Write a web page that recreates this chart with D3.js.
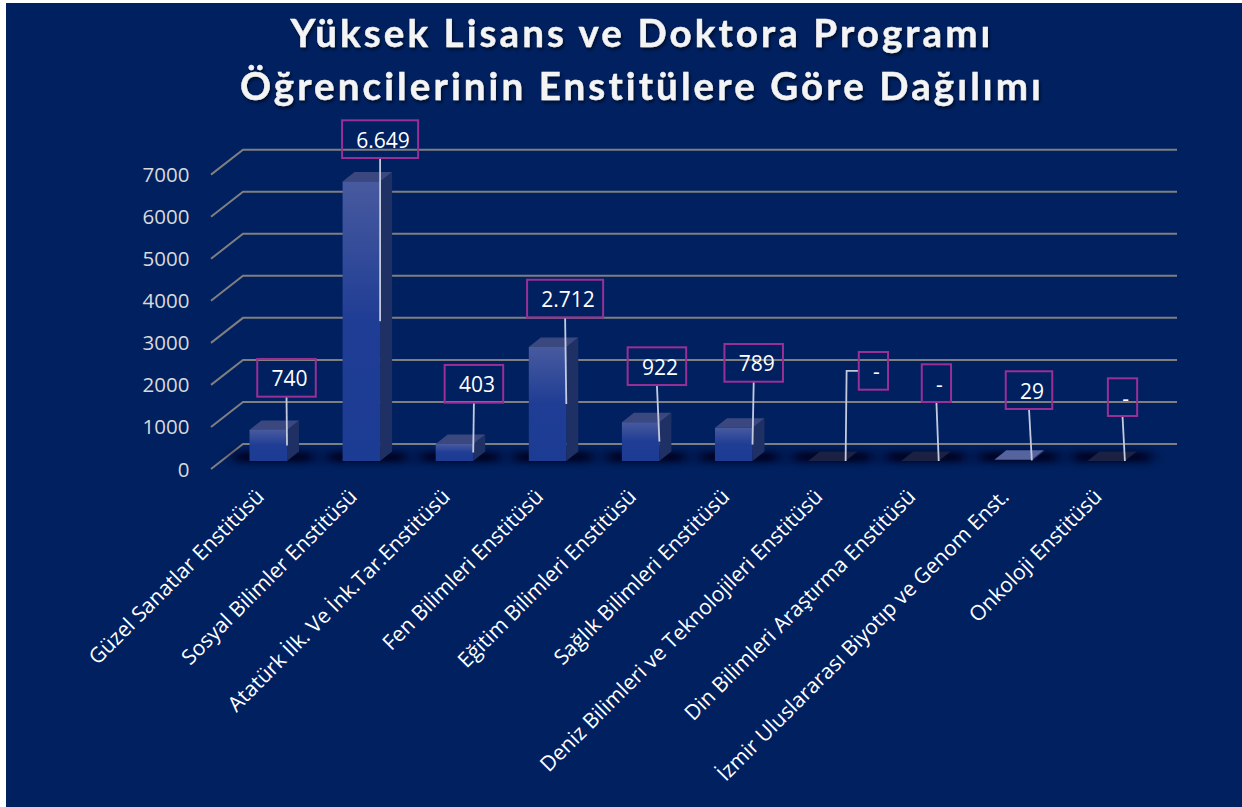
<!DOCTYPE html>
<html><head><meta charset="utf-8">
<script src="https://cdn.jsdelivr.net/npm/d3@7/dist/d3.min.js"></script>
<style>html,body{margin:0;padding:0;background:#fff;overflow:hidden}svg{display:block}</style>
</head><body><div id="chart"></div>
<script>
const titleLines = ["Yüksek Lisans ve Doktora Programı", "Öğrencilerinin Enstitülere Göre Dağılımı"];
const categories = ["Güzel Sanatlar Enstitüsü","Sosyal Bilimler Enstitüsü","Atatürk İlk. Ve İnk.Tar.Enstitüsü","Fen Bilimleri Enstitüsü","Eğitim Bilimleri Enstitüsü","Sağlık Bilimleri Enstitüsü","Deniz Bilimleri ve Teknolojileri Enstitüsü","Din Bilimleri Araştırma Enstitüsü","İzmir Uluslararası Biyotıp ve Genom Enst.","Onkoloji Enstitüsü"];
const values = [740,6649,403,2712,922,789,0,0,29,0];
const valueLabels = ["740","6.649","403","2.712","922","789","-","-","29","-"];
const yTicks = [0,1000,2000,3000,4000,5000,6000,7000];
// label placement, relative to each bar
const labelShiftX = [-0.5,0,0.7,-1.2,-2.5,1.2,27.8,-2.3,-2.8,-2.4];
const labelLift = [33.2,23.4,41.4,29.5,37.2,46.1,71.3,59,50.8,45];

const W=1242,H=807;
const svg=d3.select("#chart").append("svg").attr("width",W).attr("height",H);
const defs=svg.append("defs");
const fg=defs.append("linearGradient").attr("id","front").attr("x1",0).attr("y1",0).attr("x2",0).attr("y2",1);
fg.append("stop").attr("offset",0).attr("stop-color","#485a9f");
fg.append("stop").attr("offset",0.5).attr("stop-color","#1f3d94");
fg.append("stop").attr("offset",1).attr("stop-color","#1c3b93");
defs.append("filter").attr("id","blur").attr("x","-40%").attr("y","-150%").attr("width","180%").attr("height","400%")
  .append("feGaussianBlur").attr("stdDeviation","7 3");
const ds=defs.append("filter").attr("id","tshadow").attr("x","-5%").attr("y","-20%").attr("width","110%").attr("height","150%");
ds.append("feDropShadow").attr("dx",1.5).attr("dy",2.5).attr("stdDeviation",1.8).attr("flood-color","#000").attr("flood-opacity",0.55);

svg.append("rect").attr("x",6).attr("y",3).attr("width",W-6).attr("height",H-3).attr("fill","#002060");

const x=d3.scaleBand().domain(categories).range([221.7,1152.7]).paddingInner(0.597).paddingOuter(0.2985);
const y=d3.scaleLinear().domain([0,7000]).range([461,166.65]);
const dx=12,dy=9.5,backDx=32,backDy=17,frontDy=8,x0=211,x1=1177;

// title
const title=svg.append("g").attr("filter","url(#tshadow)");
titleLines.forEach((t,i)=>title.append("text").attr("x",642).attr("y",47+i*53).attr("text-anchor","middle")
  .attr("font-family","Lato").attr("font-weight",700).attr("font-size",38.5).attr("letter-spacing",3.1)
  .attr("fill","#f4f4f4").attr("stroke","#f4f4f4").attr("stroke-width",0.4).text(t));

// grid
const grid=svg.append("g").attr("fill","none").attr("stroke","#7f7f7f").attr("stroke-width",2);
grid.selectAll("path").data(yTicks).join("path")
  .attr("d",v=>d3.line()([[x0,y(v)+frontDy],[x0+backDx,y(v)-backDy],[x1,y(v)-backDy]]));

// y tick labels
svg.append("g").selectAll("text").data(yTicks).join("text")
  .attr("x",189.5).attr("y",v=>y(v)+frontDy+7.5).attr("text-anchor","end")
  .attr("font-family","Open Sans").attr("font-size",20.5).attr("fill","#d9d9d9").text(v=>v);

// floor shadows
svg.append("g").selectAll("rect").data(categories).join("rect")
  .attr("x",c=>x(c)-15).attr("y",451.5).attr("width",x.bandwidth()+41).attr("height",11)
  .attr("fill","#00061e").attr("opacity",0.9).attr("filter","url(#blur)");

// bars
const bars=svg.append("g").selectAll("g").data(categories.map((c,i)=>({c,v:values[i]}))).join("g");
bars.filter(d=>d.v>0).append("path").attr("fill","#1f3064")
  .attr("d",d=>{const r=x(d.c)+x.bandwidth();return d3.line()([[r,y(d.v)],[r+dx,y(d.v)-dy],[r+dx,y(0)-dy],[r,y(0)]]);});
bars.append("path").attr("fill",d=>d.v===0?"#1b2142":d.v<100?"#55639f":"#3b4880")
  .attr("d",d=>{const l=x(d.c),r=l+x.bandwidth();return d3.line()([[l,y(d.v)],[r,y(d.v)],[r+dx,y(d.v)-dy],[l+dx,y(d.v)-dy]])+"Z";});
bars.filter(d=>d.v>100).append("rect").attr("x",d=>x(d.c)).attr("y",d=>y(d.v))
  .attr("width",x.bandwidth()).attr("height",d=>y(0)-y(d.v)).attr("fill","url(#front)");

// category labels
svg.append("g").selectAll("text").data(categories).join("text")
  .attr("transform",c=>`translate(${x(c)+x.bandwidth()/2-3},${498}) rotate(-45)`)
  .attr("text-anchor","end").attr("font-family","Open Sans").attr("font-size",21).attr("fill","#fff").text(c=>c);

// data labels
const lab=svg.append("g");
categories.forEach((c,i)=>{
  const barR=x(c)+x.bandwidth(), v=values[i];
  const tx=lab.append("text").attr("font-family","Open Sans").attr("font-size",21).attr("fill","#fff").attr("text-anchor","middle").text(valueLabels[i]);
  const w=tx.node().getComputedTextLength()+22.5, h=37.7;
  const cx=barR+labelShiftX[i], b=y(v)-labelLift[i], top=b-h;
  const endY=y(v/2);
  const pts=labelShiftX[i]>10 ? [[cx-w/2,top+h/2],[barR+1,top+h/2],[barR,endY]] : [[cx,b],[barR,endY]];
  lab.insert("path","text").attr("d",d3.line()(pts)).attr("fill","none").attr("stroke","#c3cade").attr("stroke-width",1.8);
  lab.insert("rect","text").attr("x",cx-w/2).attr("y",top).attr("width",w).attr("height",h)
    .attr("fill","none").attr("stroke","#9a2f96").attr("stroke-width",2);
  tx.attr("x",cx+3).attr("y",top+h/2+8.5);
});
</script></body></html>
